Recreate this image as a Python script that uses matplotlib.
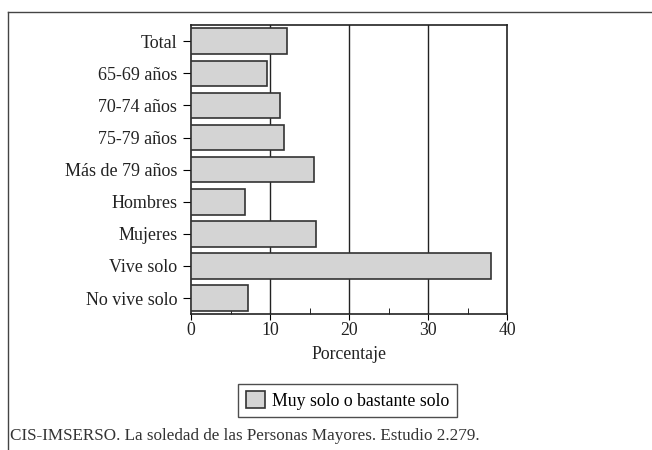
import matplotlib.pyplot as plt
from matplotlib.lines import Line2D

# Datos (porcentaje "muy solo o bastante solo")
categorias = ["Total", "65-69 años", "70-74 años", "75-79 años", "Más de 79 años",
              "Hombres", "Mujeres", "Vive solo", "No vive solo"]
valores = [12.2, 9.6, 11.3, 11.7, 15.6, 6.8, 15.8, 37.9, 7.2]
ticks_x = [0, 10, 20, 30, 40]
serie = "Muy solo o bastante solo"
fuente = "CIS-IMSERSO. La soledad de las Personas Mayores. Estudio 2.279."

plt.rcParams['font.family'] = ['Liberation Serif', 'DejaVu Serif']

fig = plt.figure(figsize=(6.52, 4.5), dpi=100)
ax = fig.add_axes([0.293, 0.302, 0.485, 0.642])

pos = list(range(len(categorias)))
ax.barh(pos, valores, height=0.8, color='#d4d4d4', edgecolor='#333333',
        linewidth=1.2, label=serie, zorder=3)
ax.set_ylim(len(categorias) - 0.5, -0.5)
ax.set_xlim(0, 40)
ax.set_yticks(pos)
ax.set_yticklabels(categorias, fontsize=13, color='#222222')
ax.set_xticks(ticks_x)
ax.set_xticklabels([str(t) for t in ticks_x], fontsize=12.8, color='#222222')
ax.set_xticks([5, 15, 25, 35], minor=True)
ax.tick_params(axis='x', which='major', direction='out', length=4, pad=2)
ax.tick_params(axis='x', which='minor', direction='in', length=4)
ax.tick_params(axis='y', direction='out', length=6, pad=4)
ax.set_xlabel("Porcentaje", fontsize=12.8, color='#222222', labelpad=5)

for x in [10, 20, 30]:
    ax.axvline(x, color='#222222', linewidth=1.0, zorder=1)
for s in ax.spines.values():
    s.set_linewidth(1.2)
    s.set_color('#222222')

leg = fig.legend(loc='center', bbox_to_anchor=(0.533, 0.11), fontsize=12.8,
                 frameon=True, fancybox=False, edgecolor='#222222',
                 handlelength=1.1, handleheight=1.1, handletextpad=0.4,
                 borderpad=0.4)
leg.get_frame().set_linewidth(1.0)

fig.text(0.015, 0.03, fuente, fontsize=12.3, color='#333333', ha='left', va='center')

# marco exterior
fig.add_artist(Line2D([0.012, 1.0], [0.973, 0.973], color='#444444', linewidth=1.0))
fig.add_artist(Line2D([0.012, 0.012], [0.973, 0.0], color='#444444', linewidth=1.0))

fig.savefig("out.png", dpi=100)
